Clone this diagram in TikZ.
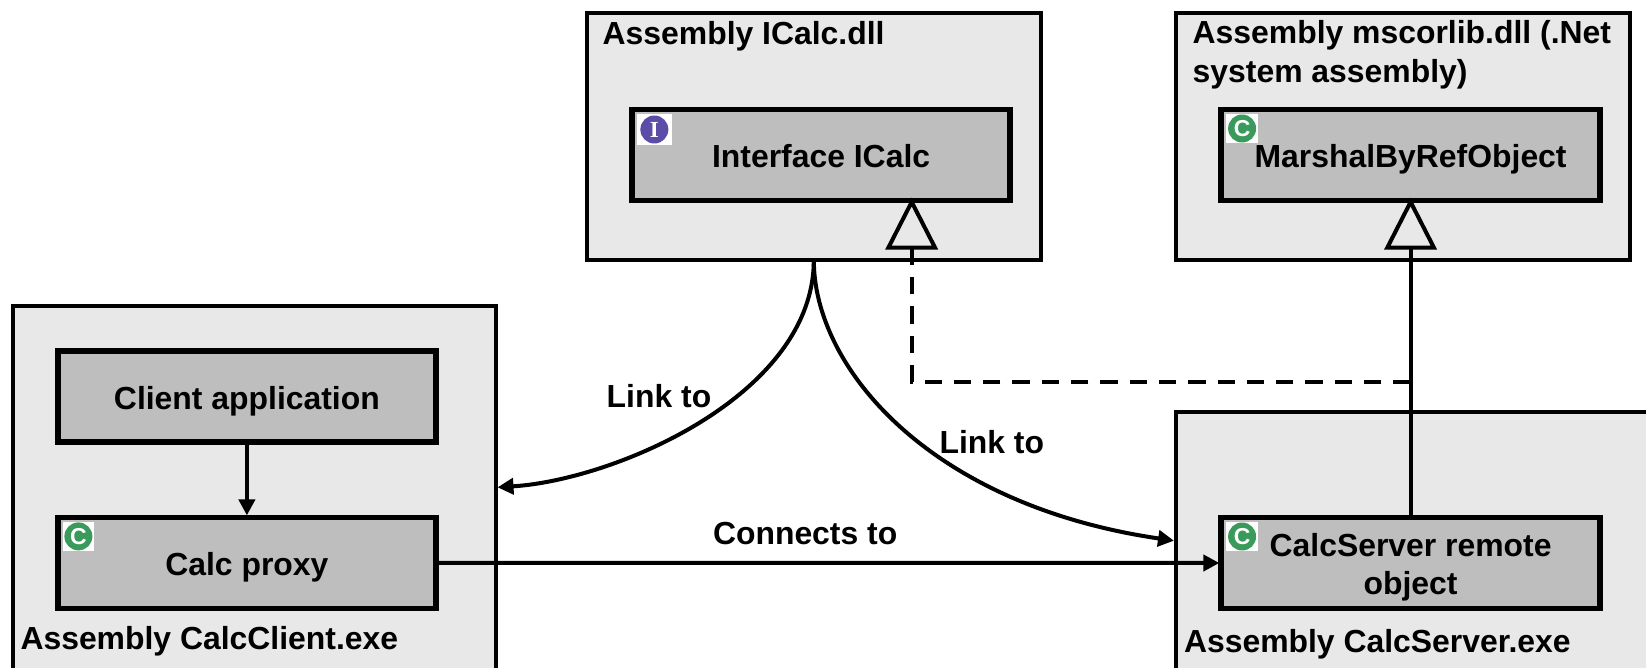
\documentclass[tikz,border=0pt]{standalone}
\usepackage{fontspec}
\setmainfont{Liberation Sans}
\newfontfamily\iconfont{Liberation Serif}
\usetikzlibrary{arrows.meta,positioning}

\definecolor{assemblygrey}{HTML}{E8E8E8}
\definecolor{classgrey}{HTML}{BEBEBE}
\definecolor{classgreen}{HTML}{3A9A5C}
\definecolor{ifacepurple}{HTML}{5B4CA8}

\tikzset{
    assembly/.style={draw, line width=4.2pt, fill=assemblygrey, anchor=north west, outer sep=0pt},
    classbox/.style={draw, line width=5.8pt, fill=classgrey, minimum width=378.5pt, minimum height=91pt,
                     align=center, outer sep=0pt, inner sep=0pt, text height=24.8pt, text depth=0pt},
    iconbox/.style={fill=white, minimum width=31.5pt, minimum height=29pt, inner sep=0pt, outer sep=0pt,
                    anchor=north west, xshift=5pt, yshift=-4.5pt, text=white,
                    font=\fontsize{23}{23}\selectfont\bfseries,
                    path picture={\fill[#1] (path picture bounding box.center) circle (14pt);}},
    caption/.style={anchor=base west, inner sep=0pt, align=left},
    plain/.style={-{Triangle[length=16pt,width=16pt]}, shorten >=2pt},
    inherit/.style={-{Triangle[open,fill=assemblygrey,length=52pt,width=52pt]}, shorten >=-3pt}
}

\begin{document}
\begin{tikzpicture}[
                    x=1pt,
                    y=-1pt,
                    line width=4pt,
                    font=\fontsize{31.9}{38.3}\selectfont\bfseries
                ]
                \useasboundingbox (0,0) rectangle (1646,667);

                \node[assembly, minimum width=453.6pt, minimum height=247.2pt] (icalc) at (587,12.8) {};
                \node[assembly, minimum width=453.7pt, minimum height=247.2pt] (mscorlib) at (1176.3,12.8) {};
                \node[assembly, minimum width=483.2pt, minimum height=394pt] (client) at (12.8,306) {};
                \node[assembly, minimum width=520pt, minimum height=300pt] (server) at (1176,412) {};

                \begin{scope}[every node/.style={classbox}]
                    \node[] (icalcif) at (821.1,155) {Interface ICalc};
                    \node[node distance=589.5pt] (marshal) [right of=icalcif] {MarshalByRefObject};
                    \node[node distance=408pt, text height=63.1pt] (remote) [below of=marshal] {CalcServer remote\\object};
                    \node[] (clientapp) at (246.9,396.7) {Client application};
                    \node[node distance=166.2pt] (proxy) [below of=clientapp] {Calc proxy};
                \end{scope}

                \node[iconbox=ifacepurple, minimum width=35pt, minimum height=31pt, font=\fontsize{23}{23}\selectfont\bfseries\iconfont] (icalcicon) at (icalcif.north west) {I};
                \node[iconbox=classgreen] (marshalicon) at (marshal.north west) {C};
                \node[iconbox=classgreen] (remoteicon) at (remote.north west) {C};
                \node[iconbox=classgreen] (proxyicon) at (proxy.north west) {C};

                \node[caption] (icalctext) at (600.7,44) {Assembly ICalc.dll};
                \node[caption] (mscorlibtext) at (1190.7,82) {Assembly mscorlib.dll (.Net\\system assembly)};
                \node[caption] (clienttext) at (18.5,649) {Assembly CalcClient.exe};
                \node[caption] (servertext) at (1182,652.5) {Assembly CalcServer.exe};

                \coordinate (clientlink) at (497.5,487.3);
                \coordinate (serverlink) at (1174,540.7);
                \coordinate (bend) at (911.7,381.5);
                \coordinate (split) at (remote.north |- bend);

                \draw[plain] (clientapp) -- (proxy);
                \draw[plain] (proxy) -- (remote);
                \draw[plain, shorten >=0pt] (icalc.south) .. controls (813.8,395) and (615,480) .. (clientlink);
                \draw[plain, shorten >=0pt] (icalc.south) .. controls (813.8,368) and (930,505) .. (serverlink);
                \draw[inherit] (remote.north) -- (marshal.south);
                \draw[inherit, dash pattern=on 17.3pt off 12pt] (split) -- (bend) -- (bend |- icalcif.south);

                \node[caption] (linkclient) at (604.7,407.7) {Link to};
                \node[caption] (linkserver) at (937.5,453.7) {Link to};
                \node[caption] (connects) at (711,544) {Connects to};
            \end{tikzpicture}
\end{document}
